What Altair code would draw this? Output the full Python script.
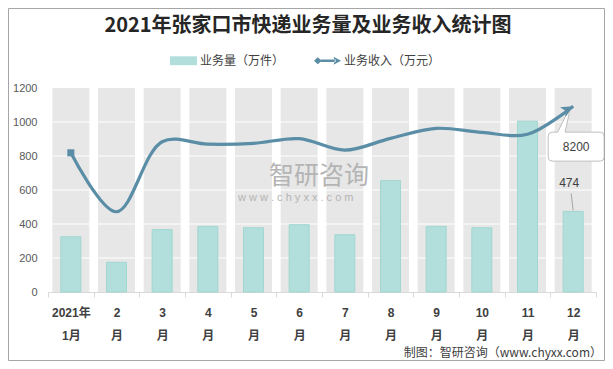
import altair as alt
import pandas as pd

# ---------------- data ----------------
months = ["2021年1月", "2月", "3月", "4月", "5月", "6月", "7月", "8月", "9月", "10月", "11月", "12月"]
volume = [325, 175, 367, 386, 378, 396, 337, 655, 386, 378, 1005, 474]          # 业务量（万件）
revenue = [6140, 3540, 6630, 6520, 6555, 6765, 6260, 6780, 7220, 7040, 6960, 8200]  # 业务收入（万元）
band_top = [1200] * 12            # grey background band of each month
y_ticks = [0, 200, 400, 600, 800, 1000, 1200]
grid_values = [200, 400, 600, 800, 1000]
series_names = ["业务量（万件）", "业务收入（万元）"]

title_text = "2021年张家口市快递业务量及业务收入统计图"
source_text = "制图：智研咨询（www.chyxx.com）"

TEAL = "#B2DFDB"
TEAL_EDGE = "#A2D6D1"
BLUE = "#5A8DA6"
GREY_BAND = "#E7E7E7"
FONT = "Liberation Sans, Noto Sans CJK SC"
CJK = "Noto Sans CJK SC"

df = pd.DataFrame({"month": months, "volume": volume, "revenue": revenue, "band": band_top})

base = alt.Chart(df)

x_axis = alt.Axis(
    title=None, labelAngle=0, labelFont=FONT, labelFontWeight="bold", labelFontSize=12,
    labelColor="#404040", labelLineHeight=23, labelPadding=10,
    labelExpr=("!datum.value ? '' : (datum.value == '2021年1月' ? ['2021年', '1月'] : "
               "[replace(datum.value, '月', ''), '月'])"),
    domainColor="#D9D9D9", tickColor="#D9D9D9", tickSize=5, tickBand="extent", grid=False,
)
x_scale = alt.Scale(paddingInner=0, paddingOuter=0)
X = alt.X("month:N", sort=months, scale=x_scale, axis=x_axis)

y_axis = alt.Axis(values=y_ticks, format="d", domain=False, ticks=False, grid=False, labelPadding=11,
                  labelColor="#595959", labelFontSize=11, labelFont=FONT, title=None)
y_scale = alt.Scale(domain=[0, 1200], nice=False)
y2_scale = alt.Scale(domain=[0, 9000], nice=False)

# ---- primary axis group (bars) ----
grey = base.mark_bar(color=GREY_BAND, width=37).encode(
    x=X, y=alt.Y("band:Q", scale=y_scale, axis=y_axis))
grid = alt.Chart(pd.DataFrame({"g": grid_values})).mark_rule(color="white", strokeWidth=1).encode(
    y=alt.Y("g:Q", scale=y_scale, axis=y_axis))
bars = base.mark_bar(color=TEAL, stroke=TEAL_EDGE, strokeWidth=1, width=20).encode(
    x=X, y=alt.Y("volume:Q", scale=y_scale, axis=y_axis))
dec_bar = base.transform_filter(alt.datum.month == "12月")
leader = dec_bar.mark_point(shape="M0,-1L-2,-18", size=4, filled=False, color="#A6A6A6",
                            strokeWidth=1, opacity=1).encode(
    x=X, y=alt.Y("volume:Q", scale=y_scale, axis=y_axis))
lbl_bar = dec_bar.mark_text(dx=-4, dy=-28, fontSize=12, font=FONT, color="#404040").encode(
    x=X, y=alt.Y("volume:Q", scale=y_scale, axis=y_axis), text="volume:Q")
bars_group = alt.layer(grey, grid, bars, leader, lbl_bar)

# ---- watermark ----
wm1 = alt.Chart(pd.DataFrame({"t": ["智研咨询"]})).mark_text(
    align="left", baseline="middle", fontSize=25, font=CJK, color="#B4B4B4").encode(
    x=alt.value(221), y=alt.value(88), text="t:N")
wm2 = alt.Chart(pd.DataFrame({"t": ["w w w . c h y x x . c o m"]})).mark_text(
    align="left", baseline="middle", fontSize=11, font=FONT, color="#B4B4B4").encode(
    x=alt.value(190), y=alt.value(110), text="t:N")

# ---- secondary axis group (line) ----
Yr = alt.Y("revenue:Q", scale=y2_scale, axis=None)
line = base.mark_line(color=BLUE, strokeWidth=3.2, interpolate="catmull-rom").encode(x=X, y=Yr)
start = base.transform_filter(alt.datum.month == "2021年1月").mark_point(
    shape="square", size=50, filled=True, color=BLUE, opacity=1).encode(x=X, y=Yr)
dec_line = base.transform_filter(alt.datum.month == "12月")
callout_path = ("M-21,26 L-15.5,26 L-2.5,0 L-8,26 L27,26 Q31,26 31,30 L31,51 Q31,55 27,55 "
                "L-21,55 Q-25,55 -25,51 L-25,30 Q-25,26 -21,26 Z")
callout = dec_line.mark_point(shape=callout_path, size=4, filled=True, fill="white",
                              stroke="#BFBFBF", strokeWidth=1, opacity=1).encode(x=X, y=Yr)
arrow = dec_line.mark_point(shape="M0,0L-12,-5.5L-9,0L-12,5.5Z", size=4, angle=330,
                            filled=True, color=BLUE, opacity=1).encode(x=X, y=Yr)
lbl_line = dec_line.mark_text(dx=3, dy=41, fontSize=12, font=FONT, color="#404040").encode(
    x=X, y=Yr, text="revenue:Q")
line_group = alt.layer(line, start, callout, arrow, lbl_line)

# ---- legend ----
rect_path = "M-1,-0.33H1V0.33H-1Z"
arrow_path = ("M-1,0L-0.72,-0.26L-0.44,0L-0.72,0.26Z M-0.5,-0.09H0.6V0.09H-0.5Z "
              "M1,0L0.45,-0.3L0.55,0L0.45,0.3Z")
leg = alt.Legend(orient="none", legendX=122, legendY=-41, direction="horizontal", title=None,
                 symbolSize=729, symbolStrokeWidth=0, symbolOpacity=1, labelFontSize=12,
                 labelFont=CJK, labelColor="#404040", labelOffset=3, columnPadding=29)
legend_layer = alt.Chart(pd.DataFrame({"series": series_names})).transform_filter("false").mark_point(
    filled=True).encode(
    color=alt.Color("series:N", scale=alt.Scale(domain=series_names, range=[TEAL, BLUE]), legend=leg),
    shape=alt.Shape("series:N", scale=alt.Scale(domain=series_names, range=[rect_path, arrow_path]),
                    legend=leg),
)

# ---- source note & frame ----
note = alt.Chart(pd.DataFrame({"t": [source_text]})).mark_text(
    align="right", baseline="middle", fontSize=12, font=CJK, color="#404040").encode(
    x=alt.value(554), y=alt.value(265), text="t:N")
frame = alt.Chart(pd.DataFrame({"t": [0]})).mark_rect(fill=None, stroke="#A6A6A6", strokeWidth=1).encode(
    x=alt.value(-39.5), x2=alt.value(556.5), y=alt.value(-79.5), y2=alt.value(272.5))

chart = alt.layer(bars_group, wm1, wm2, line_group, legend_layer, note, frame).resolve_scale(
    y="independent"
).properties(
    width=548, height=204,
    padding={"left": 40, "top": 80, "right": 9, "bottom": 69},
    autosize="none",
    title=alt.TitleParams(title_text, fontSize=20, font=CJK, fontWeight="bold", color="#262626",
                          anchor="middle", dx=-14, dy=28, offset=0),
    background="white",
).configure_view(stroke=None)

chart.save("out.html", embed_options={"renderer": "svg", "actions": False})
